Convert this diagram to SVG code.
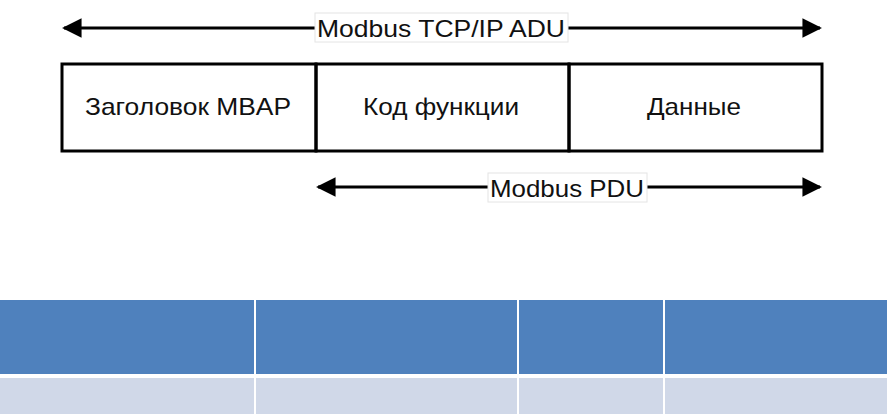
<svg xmlns="http://www.w3.org/2000/svg" width="887" height="416" viewBox="0 0 887 416">
<style>
.t{font-family:"Liberation Sans",Arial,sans-serif;font-size:24px;fill:#111;text-anchor:middle}
.ln{stroke:#000;stroke-width:3;fill:none}
.hd{fill:#4f81bd}.rw{fill:#d0d8e8}
</style>
<defs>
<marker id="ah" viewBox="0 0 10 10" refX="9" refY="5" markerWidth="8" markerHeight="6.5" orient="auto-start-reverse" markerUnits="strokeWidth"><path d="M0,0L10,5L0,10z" fill="#000"/></marker>
</defs>
<rect width="887" height="416" fill="#fff"/>
<g id="connectors">
<line class="ln" x1="64" y1="28" x2="820" y2="28" marker-start="url(#ah)" marker-end="url(#ah)"/>
<line class="ln" x1="318" y1="187" x2="820" y2="187" marker-start="url(#ah)" marker-end="url(#ah)"/>
</g>
<g id="adu-label"><rect x="315" y="13" width="253" height="29" fill="#fff" stroke="#e4e4e4"/><text class="t" x="441" y="37" textLength="248" lengthAdjust="spacingAndGlyphs">Modbus TCP/IP ADU</text></g>
<g id="pdu-label"><rect x="488" y="173" width="159" height="29" fill="#fff" stroke="#e4e4e4"/><text class="t" x="567" y="197" textLength="154" lengthAdjust="spacingAndGlyphs">Modbus PDU</text></g>
<g id="mbap"><rect class="ln" x="62" y="64" width="254" height="87" stroke-width="4"/><text class="t" x="188" y="115" textLength="206" lengthAdjust="spacingAndGlyphs">Заголовок MBAP</text></g>
<g id="func"><rect class="ln" x="316" y="64" width="253" height="87" stroke-width="4"/><text class="t" x="441" y="115" textLength="156" lengthAdjust="spacingAndGlyphs">Код функции</text></g>
<g id="data"><rect class="ln" x="569" y="64" width="253" height="87" stroke-width="4"/><text class="t" x="694" y="115" textLength="94" lengthAdjust="spacingAndGlyphs">Данные</text></g>
<g id="table">
<rect class="hd" x="0" y="300" width="254" height="74"/>
<rect class="hd" x="256" y="300" width="261" height="74"/>
<rect class="hd" x="519" y="300" width="144" height="74"/>
<rect class="hd" x="665" y="300" width="222" height="74"/>
<rect class="rw" x="0" y="378" width="254" height="36"/>
<rect class="rw" x="256" y="378" width="261" height="36"/>
<rect class="rw" x="519" y="378" width="144" height="36"/>
<rect class="rw" x="665" y="378" width="222" height="36"/>
</g>
</svg>
